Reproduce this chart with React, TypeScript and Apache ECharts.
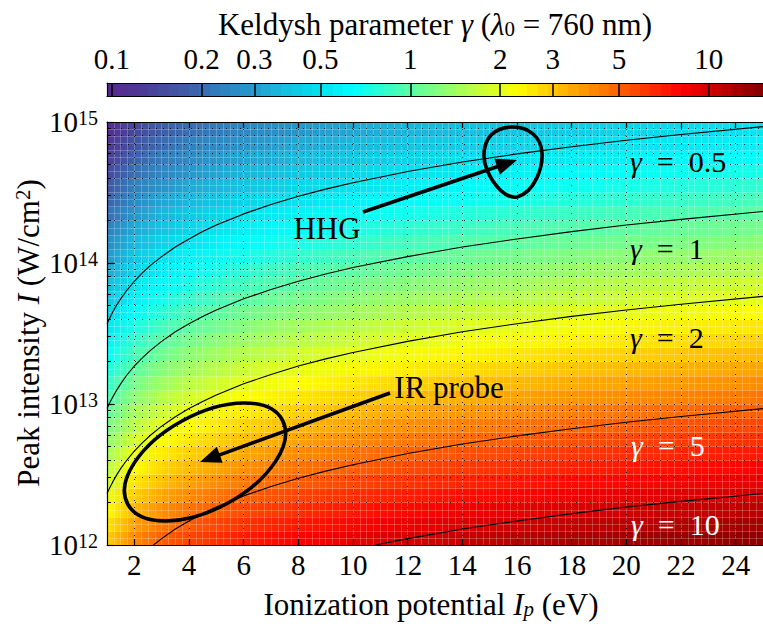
import React, { useEffect, useRef } from "react";
import * as echarts from "echarts";

// ---------------- data ----------------
// Ionization potential columns (eV) at which the Keldysh parameter was read
const IP_COLUMNS = [1, 2, 3, 4, 6, 8, 11, 14, 18, 25];
// Peak intensity rows (W/cm^2), band centres
const INTENSITY_ROWS = [
  1.12e12, 1.41e12, 1.78e12, 2.24e12, 2.82e12, 3.55e12, 4.47e12, 5.62e12, 7.08e12, 8.91e12,
  1.12e13, 1.41e13, 1.78e13, 2.24e13, 2.82e13, 3.55e13, 4.47e13, 5.62e13, 7.08e13, 8.91e13,
  1.12e14, 1.41e14, 1.78e14, 2.24e14, 2.82e14, 3.55e14, 4.47e14, 5.62e14, 7.08e14, 8.91e14,
];
// Keldysh parameter gamma for each row (rows) and Ip column (columns)
const GAMMA_GRID = [
  [2.88, 4.07, 4.98, 5.75, 7.04, 8.13, 9.54, 10.76, 12.2, 14.38],
  [2.56, 3.62, 4.44, 5.13, 6.28, 7.25, 8.5, 9.59, 10.87, 12.81],
  [2.28, 3.23, 3.96, 4.57, 5.6, 6.46, 7.58, 8.55, 9.69, 11.42],
  [2.04, 2.88, 3.53, 4.07, 4.99, 5.76, 6.75, 7.62, 8.64, 10.18],
  [1.81, 2.57, 3.14, 3.63, 4.44, 5.13, 6.02, 6.79, 7.7, 9.07],
  [1.62, 2.29, 2.8, 3.23, 3.96, 4.57, 5.36, 6.05, 6.86, 8.09],
  [1.44, 2.04, 2.5, 2.88, 3.53, 4.08, 4.78, 5.39, 6.11, 7.21],
  [1.28, 1.82, 2.22, 2.57, 3.15, 3.63, 4.26, 4.81, 5.45, 6.42],
  [1.14, 1.62, 1.98, 2.29, 2.8, 3.24, 3.8, 4.28, 4.86, 5.72],
  [1.02, 1.44, 1.77, 2.04, 2.5, 2.89, 3.38, 3.82, 4.33, 5.1],
  [0.909, 1.29, 1.58, 1.82, 2.23, 2.57, 3.02, 3.4, 3.86, 4.55],
  [0.81, 1.15, 1.4, 1.62, 1.99, 2.29, 2.69, 3.03, 3.44, 4.05],
  [0.722, 1.02, 1.25, 1.44, 1.77, 2.04, 2.4, 2.7, 3.06, 3.61],
  [0.644, 0.91, 1.11, 1.29, 1.58, 1.82, 2.13, 2.41, 2.73, 3.22],
  [0.574, 0.811, 0.994, 1.15, 1.41, 1.62, 1.9, 2.15, 2.43, 2.87],
  [0.511, 0.723, 0.886, 1.02, 1.25, 1.45, 1.7, 1.91, 2.17, 2.56],
  [0.456, 0.645, 0.789, 0.912, 1.12, 1.29, 1.51, 1.71, 1.93, 2.28],
  [0.406, 0.574, 0.704, 0.812, 0.995, 1.15, 1.35, 1.52, 1.72, 2.03],
  [0.362, 0.512, 0.627, 0.724, 0.887, 1.02, 1.2, 1.35, 1.54, 1.81],
  [0.323, 0.456, 0.559, 0.645, 0.79, 0.913, 1.07, 1.21, 1.37, 1.61],
  [0.288, 0.407, 0.498, 0.575, 0.704, 0.813, 0.954, 1.08, 1.22, 1.44],
  [0.256, 0.362, 0.444, 0.513, 0.628, 0.725, 0.85, 0.959, 1.09, 1.28],
  [0.228, 0.323, 0.396, 0.457, 0.56, 0.646, 0.758, 0.855, 0.969, 1.14],
  [0.204, 0.288, 0.353, 0.407, 0.499, 0.576, 0.675, 0.762, 0.864, 1.02],
  [0.181, 0.257, 0.314, 0.363, 0.444, 0.513, 0.602, 0.679, 0.77, 0.907],
  [0.162, 0.229, 0.28, 0.323, 0.396, 0.457, 0.536, 0.605, 0.686, 0.809],
  [0.144, 0.204, 0.25, 0.288, 0.353, 0.408, 0.478, 0.539, 0.611, 0.721],
  [0.128, 0.182, 0.222, 0.257, 0.315, 0.363, 0.426, 0.481, 0.545, 0.642],
  [0.114, 0.162, 0.198, 0.229, 0.28, 0.324, 0.38, 0.428, 0.486, 0.572],
  [0.102, 0.144, 0.177, 0.204, 0.25, 0.289, 0.338, 0.382, 0.433, 0.51],
];
// colour scale limits of the colorbar
const GAMMA_RANGE = [0.0963, 15.2];
const COLORBAR_TICKS = [0.1, 0.2, 0.3, 0.5, 1, 2, 3, 5, 10];
const X_TICKS = [2, 4, 6, 8, 10, 12, 14, 16, 18, 20, 22, 24];
const Y_MINOR_MULTIPLIERS = [2, 3, 4, 5, 6, 7, 8, 9];

// contour lines gamma = const : [Ip (eV), I (W/cm^2)]
const CONTOUR_GAMMA_05 = [[1, 3.71e13], [1.1, 4.08e13], [1.2, 4.45e13], [1.35, 5.01e13], [1.5, 5.57e13], [1.7, 6.31e13], [2, 7.42e13], [2.3, 8.54e13], [2.6, 9.65e13], [3, 1.11e14], [3.5, 1.3e14], [4, 1.48e14], [4.5, 1.67e14], [5, 1.86e14], [6, 2.23e14], [7, 2.6e14], [8, 2.97e14], [9, 3.34e14], [10, 3.71e14], [12, 4.45e14], [14, 5.2e14], [16, 5.94e14], [18, 6.68e14], [20, 7.42e14], [22, 8.16e14], [25, 9.28e14]];
const CONTOUR_GAMMA_1 = [[1, 9.28e12], [1.1, 1.02e13], [1.2, 1.11e13], [1.35, 1.25e13], [1.5, 1.39e13], [1.7, 1.58e13], [2, 1.86e13], [2.3, 2.13e13], [2.6, 2.41e13], [3, 2.78e13], [3.5, 3.25e13], [4, 3.71e13], [4.5, 4.18e13], [5, 4.64e13], [6, 5.57e13], [7, 6.49e13], [8, 7.42e13], [9, 8.35e13], [10, 9.28e13], [12, 1.11e14], [14, 1.3e14], [16, 1.48e14], [18, 1.67e14], [20, 1.86e14], [22, 2.04e14], [25, 2.32e14]];
const CONTOUR_GAMMA_2 = [[1, 2.32e12], [1.1, 2.55e12], [1.2, 2.78e12], [1.35, 3.13e12], [1.5, 3.48e12], [1.7, 3.94e12], [2, 4.64e12], [2.3, 5.33e12], [2.6, 6.03e12], [3, 6.96e12], [3.5, 8.12e12], [4, 9.28e12], [4.5, 1.04e13], [5, 1.16e13], [6, 1.39e13], [7, 1.62e13], [8, 1.86e13], [9, 2.09e13], [10, 2.32e13], [12, 2.78e13], [14, 3.25e13], [16, 3.71e13], [18, 4.18e13], [20, 4.64e13], [22, 5.1e13], [25, 5.8e13]];
const CONTOUR_GAMMA_5 = [[2.7, 1.0e12], [3, 1.11e12], [3.5, 1.3e12], [4, 1.48e12], [4.5, 1.67e12], [5, 1.86e12], [6, 2.23e12], [7, 2.6e12], [8, 2.97e12], [9, 3.34e12], [10, 3.71e12], [12, 4.45e12], [14, 5.2e12], [16, 5.94e12], [18, 6.68e12], [20, 7.42e12], [22, 8.16e12], [25, 9.28e12]];
const CONTOUR_GAMMA_10 = [[10.8, 1.0e12], [12, 1.11e12], [14, 1.3e12], [16, 1.48e12], [18, 1.67e12], [20, 1.86e12], [22, 2.04e12], [25, 2.32e12]];

// ---------------- styling helpers ----------------
const FONT = '"Liberation Serif", "Times New Roman", serif';
const TICK_FS = 29;
const TEXT_FS = 31;
const LABEL_FS = 30;

const CMAP_STOPS: [number, string][] = [
  [0.0, "#582890"], [0.06, "#4a3e98"], [0.1, "#4252a2"], [0.14, "#3a68b0"],
  [0.17, "#2f80be"], [0.21, "#2892c8"], [0.25, "#1eb0da"], [0.31, "#08d8ea"],
  [0.375, "#00ffff"], [0.625, "#ffff00"], [0.875, "#ff0000"], [1.0, "#800000"],
];
function hexRgb(h: string) {
  return [parseInt(h.slice(1, 3), 16), parseInt(h.slice(3, 5), 16), parseInt(h.slice(5, 7), 16)];
}
function cmap(t: number) {
  t = Math.max(0, Math.min(1, t));
  for (let i = 0; i < CMAP_STOPS.length - 1; i++) {
    const [a, ca] = CMAP_STOPS[i];
    const [b, cb] = CMAP_STOPS[i + 1];
    if (t <= b) {
      const f = (t - a) / (b - a);
      const A = hexRgb(ca), B = hexRgb(cb);
      const c = A.map((v, k) => Math.round(v + (B[k] - v) * f));
      return `rgb(${c[0]},${c[1]},${c[2]})`;
    }
  }
  return CMAP_STOPS[CMAP_STOPS.length - 1][1];
}
const LOG_MIN = Math.log10(GAMMA_RANGE[0]);
const LOG_MAX = Math.log10(GAMMA_RANGE[1]);
const norm = (g: number) => (Math.log10(g) - LOG_MIN) / (LOG_MAX - LOG_MIN);

const EGG_PATH =
  "M 0 -35 C 16 -35 28 -25 29 -9 C 30 5 22 30 4 35 C -8 37 -20 22 -26 8 C -31 -4 -30 -18 -22 -27 C -16 -33 -8 -35 0 -35 Z";
echarts.graphic.registerShape("hhgEgg", echarts.graphic.extendPath(EGG_PATH, {}) as any);

function arrow(x1: number, y1: number, x2: number, y2: number, head = 21, half = 8.5, w = 3.6) {
  const dx = x2 - x1, dy = y2 - y1, L = Math.hypot(dx, dy), ux = dx / L, uy = dy / L;
  const bx = x2 - ux * head, by = y2 - uy * head;
  return [
    { type: "line", z: 100, shape: { x1, y1, x2: bx + ux * 3, y2: by + uy * 3 }, style: { stroke: "#000", lineWidth: w } },
    {
      type: "polygon", z: 100,
      shape: { points: [[x2, y2], [bx - uy * half, by + ux * half], [bx + uy * half, by - ux * half]] },
      style: { fill: "#000" },
    },
  ];
}

const richBase = {
  i: { fontFamily: FONT, fontStyle: "italic", fontSize: TEXT_FS },
  sub: { fontFamily: FONT, fontSize: 21, verticalAlign: "bottom", lineHeight: 14 },
  subi: { fontFamily: FONT, fontStyle: "italic", fontSize: 21, verticalAlign: "bottom", lineHeight: 14 },
  sup: { fontFamily: FONT, fontSize: 21, verticalAlign: "top", lineHeight: 14 },
};

function gammaLabel(x: number, y: number, val: string, color: string) {
  return {
    type: "text", x, y, z: 100,
    style: {
      text: `{i|γ}\u2002=\u2002${val}`, fontFamily: FONT, fontSize: LABEL_FS, fill: color,
      align: "left", verticalAlign: "middle",
      rich: { i: { fontFamily: FONT, fontStyle: "italic", fontSize: LABEL_FS, fill: color } },
    },
  };
}

function colorbarGradient() {
  const stops: { offset: number; color: string }[] = [];
  const N = 64;
  for (let k = 0; k < N; k++) {
    const c = cmap((k + 0.5) / N);
    stops.push({ offset: k / N, color: c }, { offset: (k + 1) / N, color: c });
  }
  return new echarts.graphic.LinearGradient(0, 0, 1, 0, stops);
}

function buildOption() {
  const minorLog: number[] = [];
  for (let n = 12; n < 15; n++) Y_MINOR_MULTIPLIERS.forEach((m) => minorLog.push(n + Math.log10(m)));
  const cbLogTicks = COLORBAR_TICKS.map((t) => Math.log10(t));
  const dotted = { type: [1, 6] as any, color: "#000", width: 1, opacity: 0.85 };
  const lattice = { color: "rgba(255,255,255,0.22)", width: 1 };
  const nRows = INTENSITY_ROWS.length;
  const ip0 = IP_COLUMNS[0], ipN = IP_COLUMNS[IP_COLUMNS.length - 1];
  const axLine = { onZero: false, lineStyle: { color: "#000", width: 1.2 } };

  const contour = (data: number[][]) => ({
    type: "line", xAxisIndex: 0, yAxisIndex: 0, data, showSymbol: false, symbol: "none",
    smooth: false, silent: true, z: 3,
    lineStyle: { color: "#000", width: 1.1 },
  });

  return {
    animation: false,
    backgroundColor: "#ffffff",
    grid: [
      { left: 107, right: -4, top: 122, bottom: 81 },
      { left: 107, right: -4, top: 83, height: 13 },
    ],
    xAxis: [
      {
        type: "value", gridIndex: 0, min: 1, max: 25, position: "bottom", z: 2,
        axisLine: axLine,
        axisTick: { inside: true, length: 6, customValues: X_TICKS, lineStyle: { color: "#000", width: 1.2 } },
        axisLabel: { customValues: X_TICKS, fontFamily: FONT, fontSize: TICK_FS, color: "#000", margin: 5 },
        splitLine: { show: true, lineStyle: dotted },
      },
      {
        type: "value", gridIndex: 0, min: 1, max: 25, position: "top", z: 2,
        axisLine: axLine,
        axisTick: { inside: true, length: 6, customValues: X_TICKS, lineStyle: { color: "#000", width: 1.2 } },
        axisLabel: { show: false },
        splitLine: { show: false },
      },
      {
        type: "value", gridIndex: 0, min: 1, max: 25, interval: 0.25, position: "bottom", z: 1,
        axisLine: { show: false, onZero: false }, axisTick: { show: false }, axisLabel: { show: false },
        splitLine: { show: true, lineStyle: lattice },
      },
      {
        type: "value", gridIndex: 1, min: LOG_MIN, max: LOG_MAX, position: "top", z: 2,
        axisLine: axLine,
        axisTick: { inside: true, length: 13, customValues: cbLogTicks, lineStyle: { color: "#000", width: 1.5 } },
        axisLabel: {
          customValues: cbLogTicks, fontFamily: FONT, fontSize: TICK_FS, color: "#000", margin: 10,
          formatter: (v: number) => {
            const t = COLORBAR_TICKS.find((c) => Math.abs(Math.log10(c) - v) < 1e-6);
            return t === undefined ? "" : String(t);
          },
        },
        splitLine: { show: false },
      },
      {
        type: "value", gridIndex: 1, min: LOG_MIN, max: LOG_MAX, position: "bottom", z: 2,
        axisLine: axLine,
        axisTick: { show: false }, axisLabel: { show: false }, splitLine: { show: false },
      },
    ],
    yAxis: [
      {
        type: "log", logBase: 10, gridIndex: 0, min: 1e12, max: 1e15, position: "left", z: 2,
        axisLine: axLine,
        axisTick: { inside: true, length: 7, lineStyle: { color: "#000", width: 1.2 } },
        axisLabel: {
          fontFamily: FONT, fontSize: TICK_FS, color: "#000", margin: 9,
          formatter: (v: number) => `10{sup|${Math.round(Math.log10(v))}}`,
          rich: { sup: { fontFamily: FONT, fontSize: 20, verticalAlign: "top", lineHeight: 14, color: "#000" } },
        },
        splitLine: { show: true, lineStyle: dotted },
      },
      {
        type: "value", gridIndex: 0, min: 12, max: 15, position: "left", z: 2,
        axisLine: { show: false, onZero: false },
        axisTick: { inside: true, length: 4, customValues: minorLog, lineStyle: { color: "#000", width: 1 } },
        axisLabel: { show: false },
        splitLine: { show: true, lineStyle: dotted },
      },
      {
        type: "value", gridIndex: 0, min: 12, max: 15, interval: 0.05, position: "left", z: 1,
        axisLine: { show: false, onZero: false }, axisTick: { show: false }, axisLabel: { show: false },
        splitLine: { show: true, lineStyle: lattice },
      },
      {
        type: "value", gridIndex: 1, min: 0, max: 1, position: "left", z: 2,
        axisLine: axLine,
        axisTick: { show: false }, axisLabel: { show: false }, splitLine: { show: false },
      },
    ],
    series: [
      {
        type: "custom", xAxisIndex: 0, yAxisIndex: 0, z: 0, silent: true, clip: true,
        data: INTENSITY_ROWS.map((I, i) => [ip0, I, i]),
        encode: { x: 0, y: 1 },
        renderItem: (params: any, api: any) => {
          const i = api.value(2);
          const I = INTENSITY_ROWS[i];
          const up = i < nRows - 1 ? Math.sqrt(I * INTENSITY_ROWS[i + 1]) : I * Math.sqrt(I / INTENSITY_ROWS[i - 1]);
          const dn = i > 0 ? Math.sqrt(I * INTENSITY_ROWS[i - 1]) : I / Math.sqrt(INTENSITY_ROWS[1] / I);
          const p0 = api.coord([ip0, up]);
          const p1 = api.coord([ipN, dn]);
          const stops = IP_COLUMNS.map((ip, j) => ({
            offset: (ip - ip0) / (ipN - ip0),
            color: cmap(norm(GAMMA_GRID[i][j])),
          }));
          return {
            type: "rect",
            shape: { x: p0[0], y: p0[1] - 0.5, width: p1[0] - p0[0], height: p1[1] - p0[1] + 1 },
            style: { fill: new echarts.graphic.LinearGradient(0, 0, 1, 0, stops) },
          };
        },
      },
      {
        // colorbar strip, spanning the colour scale of grid 1
        type: "custom", xAxisIndex: 3, yAxisIndex: 3, z: 0, silent: true,
        data: [[LOG_MIN, 0, LOG_MAX, 1]],
        renderItem: (params: any, api: any) => {
          const a = api.coord([api.value(0), api.value(3)]);
          const b = api.coord([api.value(2), api.value(1)]);
          return {
            type: "rect",
            shape: { x: a[0], y: a[1], width: b[0] - a[0], height: b[1] - a[1] },
            style: { fill: colorbarGradient() },
          };
        },
      },
      contour(CONTOUR_GAMMA_05),
      contour(CONTOUR_GAMMA_1),
      contour(CONTOUR_GAMMA_2),
      contour(CONTOUR_GAMMA_5),
      contour(CONTOUR_GAMMA_10),
    ],
    graphic: {
      elements: [
        {
          type: "text", x: 435, y: 24, z: 100,
          style: {
            text: "Keldysh parameter {i|γ} ({i|λ}{sub|0} = 760 nm)", fontFamily: FONT, fontSize: TEXT_FS,
            fill: "#000", align: "center", verticalAlign: "middle", rich: richBase,
          },
        },
        {
          type: "text", x: 431, y: 604, z: 100,
          style: {
            text: "Ionization potential {i|I}{subi|p} (eV)", fontFamily: FONT, fontSize: TEXT_FS,
            fill: "#000", align: "center", verticalAlign: "middle", rich: richBase,
          },
        },
        {
          type: "text", x: 28, y: 333, rotation: Math.PI / 2, z: 100,
          style: {
            text: "Peak intensity {i|I} (W/cm{sup|2})", fontFamily: FONT, fontSize: TEXT_FS,
            fill: "#000", align: "center", verticalAlign: "middle", rich: richBase,
          },
        },
        gammaLabel(630, 161, "0.5", "#000"),
        gammaLabel(630, 248, "1", "#000"),
        gammaLabel(630, 337, "2", "#000"),
        gammaLabel(631, 445, "5", "#fff"),
        gammaLabel(631, 524, "10", "#fff"),
        {
          type: "text", x: 327, y: 228, z: 100,
          style: { text: "HHG", fontFamily: FONT, fontSize: TEXT_FS, fill: "#000", align: "center", verticalAlign: "middle" },
        },
        {
          type: "text", x: 449, y: 387, z: 100,
          style: { text: "IR probe", fontFamily: FONT, fontSize: TEXT_FS, fill: "#000", align: "center", verticalAlign: "middle" },
        },
        { type: "hhgEgg", x: 513, y: 162, z: 100, style: { fill: "none", stroke: "#000", lineWidth: 3.6 } },
        {
          type: "ellipse", x: 205, y: 462, rotation: 0.5, z: 100,
          shape: { cx: 0, cy: 0, rx: 88, ry: 47 },
          style: { fill: "none", stroke: "#000", lineWidth: 3.6 },
        },
        ...arrow(363, 212, 517, 160),
        ...arrow(390, 393, 200, 462),
      ],
    },
  };
}

export default function App() {
  const ref = useRef<HTMLDivElement>(null);
  useEffect(() => {
    if (!ref.current) return;
    const chart = echarts.init(ref.current, null, { renderer: "svg" });
    chart.setOption(buildOption() as any);
    return () => chart.dispose();
  }, []);
  return (
    <div
      ref={ref}
      style={{ position: "fixed", left: 0, top: 0, width: 763, height: 626, background: "#fff" }}
    />
  );
}
